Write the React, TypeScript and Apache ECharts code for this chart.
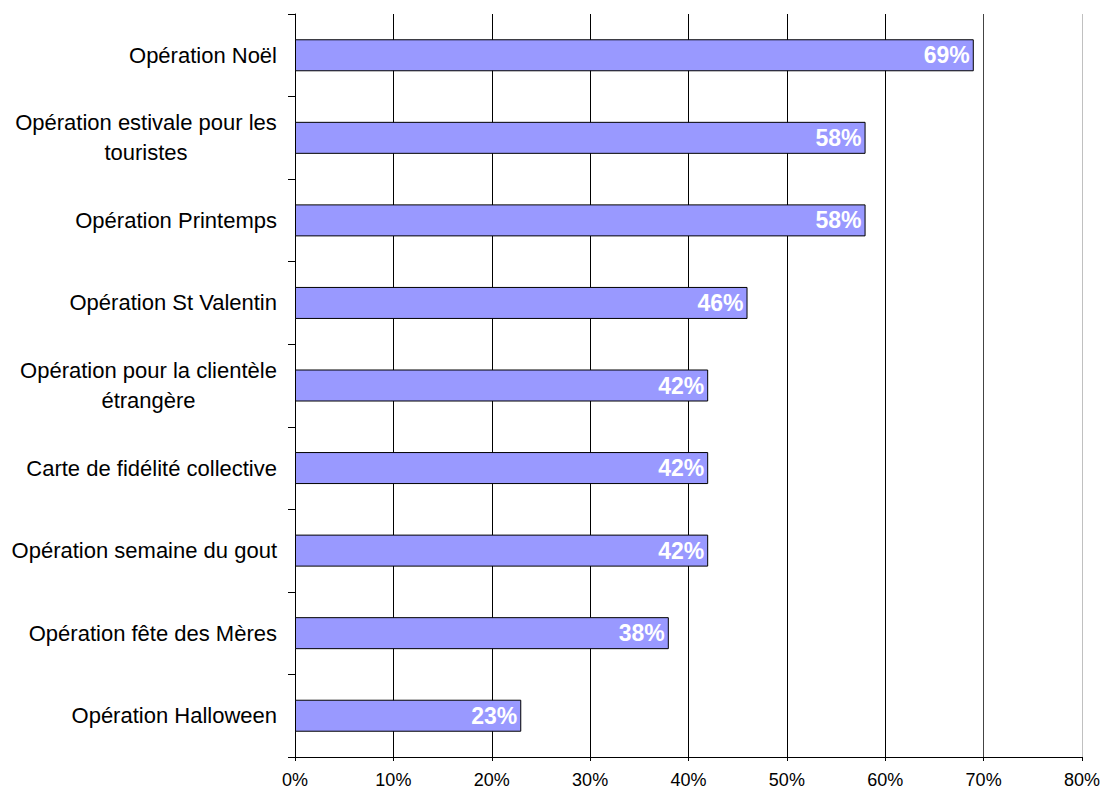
import React, { useEffect, useRef } from "react";
import * as echarts from "echarts";

const categories: string[] = [
  "Opération Noël",
  "Opération estivale pour les\ntouristes",
  "Opération Printemps",
  "Opération St Valentin",
  "Opération pour la clientèle\nétrangère",
  "Carte de fidélité collective",
  "Opération semaine du gout",
  "Opération fête des Mères",
  "Opération Halloween",
];

const values: number[] = [69, 58, 58, 46, 42, 42, 42, 38, 23];

const xMin = 0;
const xMax = 80;
const xInterval = 10;

export default function App() {
  const ref = useRef<HTMLDivElement>(null);

  useEffect(() => {
    document.body.style.margin = "0";
    if (!ref.current) return;
    const chart = echarts.init(ref.current, null, { renderer: "svg" });
    const font = "'Liberation Sans', Arial, sans-serif";
    const catSize = 22;
    const lh = 30;

    const canvas = document.createElement("canvas");
    const ctx = canvas.getContext("2d");
    const measure = (s: string) => {
      if (!ctx) return s.length * catSize * 0.5;
      ctx.font = catSize + "px " + font;
      return ctx.measureText(s).width;
    };

    const rich: Record<string, any> = {
      c: { color: "#000", fontFamily: font, fontSize: catSize, lineHeight: lh },
    };
    categories.forEach((cat, i) => {
      const lines = cat.split("\n");
      if (lines.length > 1) {
        const w = Math.ceil(Math.max(...lines.map(measure)));
        rich["w" + i] = {
          width: w,
          align: "center",
          color: "#000",
          fontFamily: font,
          fontSize: catSize,
          lineHeight: lh,
        };
      }
    });

    chart.setOption({
      animation: false,
      backgroundColor: "#ffffff",
      grid: { left: 295, right: 22, top: 14, bottom: 37, containLabel: false },
      xAxis: {
        type: "value",
        min: xMin,
        max: xMax,
        interval: xInterval,
        axisLine: { show: true, lineStyle: { color: "#000", width: 1 } },
        axisTick: { show: true, length: 4, lineStyle: { color: "#000" } },
        axisLabel: {
          formatter: "{value}%",
          color: "#000",
          fontFamily: font,
          fontSize: 18,
          margin: 14,
        },
        splitLine: {
          show: true,
          lineStyle: {
            color: ["#000", "#000", "#000", "#000", "#000", "#000", "#000", "#444", "#c0c0c0"],
            width: 1,
          },
        },
      },
      yAxis: {
        type: "category",
        data: categories,
        inverse: true,
        axisLine: { show: true, lineStyle: { color: "#000", width: 1 } },
        axisTick: { show: true, length: 7, inside: false, lineStyle: { color: "#000" } },
        axisLabel: {
          color: "#000",
          fontFamily: font,
          fontSize: catSize,
          margin: 18,
          lineHeight: lh,
          formatter: (v: string, idx: number) => {
            const i = categories.indexOf(v);
            const lines = v.split("\n");
            if (lines.length < 2) return "{c|" + v + "}";
            return lines.map((l) => "{w" + i + "|" + l + "}").join("\n");
          },
          rich,
        },
        splitLine: { show: false },
      },
      series: [
        {
          type: "bar",
          data: values,
          barWidth: 32,
          itemStyle: { color: "#9999FF", borderColor: "#000", borderWidth: 1 },
          label: {
            show: true,
            position: "insideRight",
            distance: 4,
            formatter: "{c}%",
            color: "#fff",
            fontFamily: font,
            fontWeight: "bold",
            fontSize: 23,
          },
        },
      ],
    });
    return () => chart.dispose();
  }, []);

  return (
    <div
      ref={ref}
      style={{ position: "absolute", left: 0, top: 0, width: 1104, height: 794 }}
    />
  );
}
